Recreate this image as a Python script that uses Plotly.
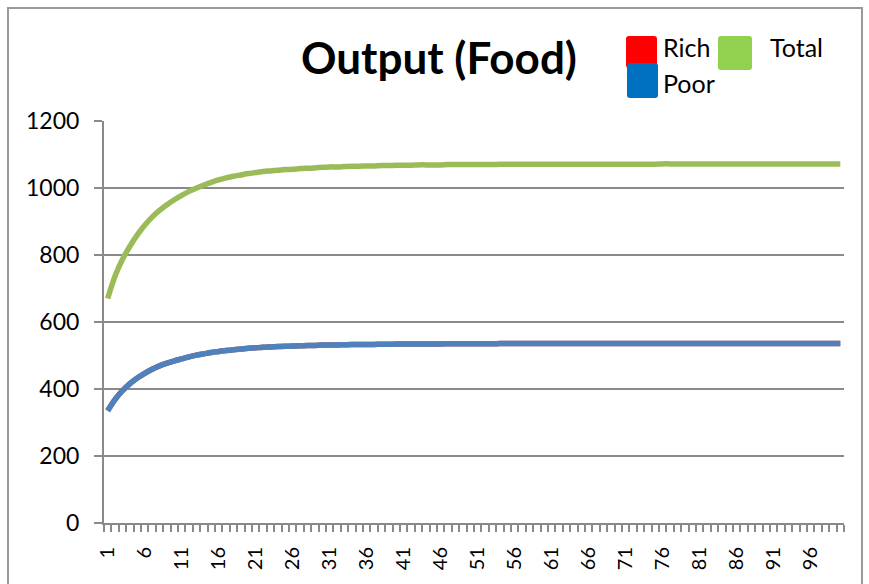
import plotly.graph_objects as go

# Period index and food output per group
periods = list(range(1, 101))

total = [
    670, 737, 787, 826, 860, 889, 913, 933, 950, 965,
    978, 990, 1000, 1009, 1017, 1024, 1030, 1035, 1039, 1043,
    1046, 1049, 1051, 1053, 1055, 1056, 1058, 1059, 1060, 1062,
    1063, 1063, 1064, 1065, 1065, 1066, 1066, 1067, 1067, 1068,
    1068, 1068, 1069, 1069, 1069, 1069, 1070, 1070, 1070, 1070,
    1070, 1070, 1070, 1071, 1071, 1071, 1071, 1071, 1071, 1071,
    1071, 1071, 1071, 1071, 1071, 1071, 1071, 1071, 1071, 1071,
    1071, 1071, 1071, 1071, 1071, 1072, 1072, 1072, 1072, 1072,
    1072, 1072, 1072, 1072, 1072, 1072, 1072, 1072, 1072, 1072,
    1072, 1072, 1072, 1072, 1072, 1072, 1072, 1072, 1072, 1072,
]

rich = [
    335, 369, 395, 416, 433, 447, 459, 469, 477, 484,
    490, 496, 501, 505, 509, 512, 515, 517.5, 519.5, 521.5,
    523, 524.5, 525.5, 526.5, 527.5, 528, 529, 529.5, 530, 531,
    531.5, 531.5, 532, 532.5, 532.5, 533, 533, 533.5, 533.5, 534,
    534, 534, 534.5, 534.5, 534.5, 534.5, 535, 535, 535, 535,
    535, 535, 535, 535.5, 535.5, 535.5, 535.5, 535.5, 535.5, 535.5,
    535.5, 535.5, 535.5, 535.5, 535.5, 535.5, 535.5, 535.5, 535.5, 535.5,
    535.5, 535.5, 535.5, 535.5, 535.5, 536, 536, 536, 536, 536,
    536, 536, 536, 536, 536, 536, 536, 536, 536, 536,
    536, 536, 536, 536, 536, 536, 536, 536, 536, 536,
]

poor = [
    335, 369, 395, 416, 433, 447, 459, 469, 477, 484,
    490, 496, 501, 505, 509, 512, 515, 517.5, 519.5, 521.5,
    523, 524.5, 525.5, 526.5, 527.5, 528, 529, 529.5, 530, 531,
    531.5, 531.5, 532, 532.5, 532.5, 533, 533, 533.5, 533.5, 534,
    534, 534, 534.5, 534.5, 534.5, 534.5, 535, 535, 535, 535,
    535, 535, 535, 535.5, 535.5, 535.5, 535.5, 535.5, 535.5, 535.5,
    535.5, 535.5, 535.5, 535.5, 535.5, 535.5, 535.5, 535.5, 535.5, 535.5,
    535.5, 535.5, 535.5, 535.5, 535.5, 536, 536, 536, 536, 536,
    536, 536, 536, 536, 536, 536, 536, 536, 536, 536,
    536, 536, 536, 536, 536, 536, 536, 536, 536, 536,
]

x_labels = [str(p) for p in periods[::5]]
y_ticks = [0, 200, 400, 600, 800, 1000, 1200]

W, H = 869, 584
L, R, T, B = 104, 25, 121, 61
PW, PH = W - L - R, H - T - B
FONT = "Lato"


def px(x):
    return (x - L) / PW


def py(y):
    return (H - B - y) / PH


def rounded_square(x0, y0, x1, y1, r=3):
    a0, a1 = px(x0), px(x1)
    b0, b1 = py(y0), py(y1)
    rx, ry = r / PW, r / PH
    return (
        f"M {a0 + rx},{b0} L {a1 - rx},{b0} Q {a1},{b0} {a1},{b0 - ry} "
        f"L {a1},{b1 + ry} Q {a1},{b1} {a1 - rx},{b1} "
        f"L {a0 + rx},{b1} Q {a0},{b1} {a0},{b1 + ry} "
        f"L {a0},{b0 - ry} Q {a0},{b0} {a0 + rx},{b0} Z"
    )


fig = go.Figure()
fig.add_trace(go.Scatter(x=periods, y=rich, mode="lines", name="Rich",
                         line=dict(color="#C0504D", width=5.5, shape="spline")))
fig.add_trace(go.Scatter(x=periods, y=poor, mode="lines", name="Poor",
                         line=dict(color="#4F81BD", width=5.5, shape="spline")))
fig.add_trace(go.Scatter(x=periods, y=total, mode="lines", name="Total",
                         line=dict(color="#9BBB59", width=5.5, shape="spline")))

grey = "#8A8A8A"

fig.update_layout(
    width=W, height=H,
    margin=dict(l=L, r=R, t=T, b=B),
    paper_bgcolor="white", plot_bgcolor="white",
    showlegend=False,
    font=dict(family=FONT, color="black"),
    xaxis=dict(
        range=[0.5, 100.5],
        tickmode="array",
        tickvals=periods[::5],
        ticktext=x_labels,
        tickangle=-90,
        tickfont=dict(size=20, family=FONT),
        ticks="",
        ticklabelstandoff=14,
        showgrid=False,
        zeroline=False,
        showline=True, linecolor=grey, linewidth=2,
        minor=dict(tick0=0.5, dtick=1, ticks="outside", ticklen=7,
                   tickcolor=grey, tickwidth=1.5, showgrid=False),
    ),
    yaxis=dict(
        range=[0, 1200],
        tickvals=y_ticks,
        tickfont=dict(size=23, family=FONT),
        ticks="outside", ticklen=8, tickcolor=grey, tickwidth=2,
        ticklabelstandoff=10,
        showgrid=True, gridcolor=grey, gridwidth=2,
        zeroline=False,
        showline=True, linecolor=grey, linewidth=2,
    ),
)

shapes = [
    # chart frame
    dict(type="rect", xref="paper", yref="paper",
         x0=px(8), x1=px(862), y0=py(600), y1=py(8),
         line=dict(color="#9A9A9A", width=2), fillcolor="rgba(0,0,0,0)",
         layer="below"),
    # legend keys
    dict(type="path", xref="paper", yref="paper",
         path=rounded_square(626, 36, 657, 68), fillcolor="#FF0000",
         line=dict(width=0)),
    dict(type="path", xref="paper", yref="paper",
         path=rounded_square(627, 63, 658, 98), fillcolor="#0070C0",
         line=dict(width=0)),
    dict(type="path", xref="paper", yref="paper",
         path=rounded_square(718, 36, 752, 70), fillcolor="#92D050",
         line=dict(width=0)),
]

annotations = [
    dict(text="<b>Output (Food)</b>", x=px(439), y=py(57), xref="paper",
         yref="paper", xanchor="center", yanchor="middle", showarrow=False,
         font=dict(size=44, family=FONT, color="black")),
    dict(text="Rich", x=px(661), y=py(47), xref="paper", yref="paper",
         xanchor="left", yanchor="middle", showarrow=False,
         font=dict(size=25, family=FONT, color="black")),
    dict(text="Total", x=px(768), y=py(47), xref="paper", yref="paper",
         xanchor="left", yanchor="middle", showarrow=False,
         font=dict(size=25, family=FONT, color="black")),
    dict(text="Poor", x=px(661), y=py(83), xref="paper", yref="paper",
         xanchor="left", yanchor="middle", showarrow=False,
         font=dict(size=25, family=FONT, color="black")),
]

fig.update_layout(shapes=shapes, annotations=annotations)
fig.write_html("out.html")
